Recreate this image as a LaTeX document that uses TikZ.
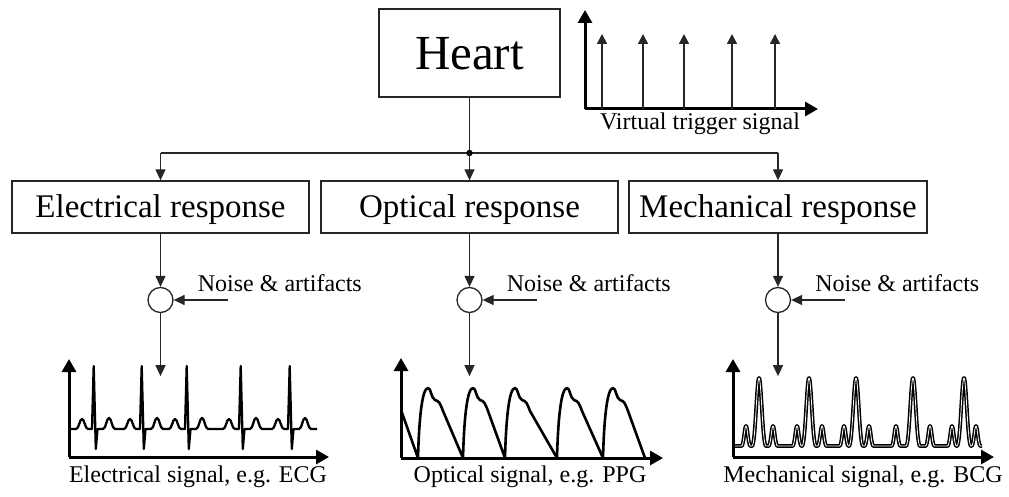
\documentclass[tikz,border=0pt]{standalone}
\usepackage{fontspec}
\setmainfont{Liberation Serif}
\usetikzlibrary{arrows.meta}
\begin{document}
\begin{tikzpicture}[x=1pt,y=-1pt,
  thin line/.style={draw=black!85,line width=1.3pt},
  box/.style={thin line,rectangle,inner sep=0pt,fill=white},
  conn/.style={thin line,-{Triangle[length=11pt,width=10pt]}},
  axis/.style={draw=black,line width=3pt,-{Triangle[length=13pt,width=14pt]}},
  trace/.style={draw=black,line width=2.6pt,line join=round},
  smalltext/.style={font=\fontsize{24}{28}\selectfont,inner sep=0pt,anchor=base},
  sumnode/.style={circle,draw=black!85,line width=1.3pt,minimum size=25pt,inner sep=0pt}
]
\useasboundingbox (0,0) rectangle (1009,497);

% boxes
\node[box,minimum width=181pt,minimum height=88pt,text height=33pt,text depth=0pt,
  font=\fontsize{49}{55}\selectfont] (heart) at (469.5,53) {Heart};
\node[box,minimum width=297pt,minimum height=52pt,text height=22pt,text depth=0pt,
  font=\fontsize{33}{38}\selectfont] (elec) at (160.5,207) {Electrical response};
\node[box,minimum width=297pt,minimum height=52pt,text height=22pt,text depth=0pt,
  font=\fontsize{33}{38}\selectfont] (opt) at (469.5,207) {Optical response};
\node[box,minimum width=298pt,minimum height=52pt,text height=22pt,text depth=0pt,
  font=\fontsize{33}{38}\selectfont] (mech) at (778,207) {Mechanical response};

% distribution
\coordinate (j1) at (160.5,153);
\coordinate (j2) at (469.5,153);
\coordinate (j3) at (778,153);
\draw[thin line] (heart.south) -- (j2);
\draw[thin line] (j1) -- (j3);
\fill (j2) circle (3.2pt);
\draw[conn] (j1) -- (elec.north);
\draw[conn] (j2) -- (opt.north);
\draw[conn] (j3) -- (mech.north);

% summing junctions
\node[sumnode] (c1) at (160.5,300) {};
\node[sumnode] (c2) at (469.5,300) {};
\node[sumnode] (c3) at (778,300) {};
\foreach \c/\b in {c1/elec,c2/opt,c3/mech}{
  \draw[conn] (\b.south) -- (\c.north);
  \coordinate (n\c) at ([xshift=54pt]\c.east);
  \draw[conn] (n\c) -- (\c.east);
  \node[smalltext,anchor=base west] (t\c) at ([xshift=24pt,yshift=9pt]\c.east) {Noise \& artifacts};
  \coordinate (s\c) at ([yshift=-63pt]\c.south);
  \draw[conn] (\c.south) -- (s\c);
}

% ---- trigger signal
\coordinate (to) at (585,109);
\coordinate (ty) at (585,10);
\coordinate (tx) at (818,109);
\draw[axis] (to) -- (ty);
\draw[axis] (to) -- (tx);
\foreach \x in {602,643,684,732,775}{
  \draw[draw=black!85,line width=1.5pt,-{Triangle[length=10pt,width=10pt]}] (\x,109) -- (\x,34);
}
\node[smalltext] (tlabel) at (700,130) {Virtual trigger signal};

% ---- ECG
\coordinate (eo) at (69,457);
\draw[axis] (eo) -- (69,359);
\draw[axis] (eo) -- (329,457);
\draw[trace,line width=2.3pt] (69,429)
  \foreach \x in {94,142,187,241,290}{
    -- (\x-18,429) .. controls (\x-15,429) and (\x-14.5,419) .. (\x-12,419)
    .. controls (\x-9.5,419) and (\x-9,429) .. (\x-6,429)
    -- (\x-2,429) -- (\x-0.3,366) -- (\x+1.8,449) -- (\x+3.5,429)
    -- (\x+9,429) .. controls (\x+12,429) and (\x+12.5,418) .. (\x+15,418)
    .. controls (\x+17.5,418) and (\x+18,429) .. (\x+21,429)
  } -- (317,429);
\node[smalltext] (elabel) at (198,482) {Electrical signal, e.g. ECG};

% ---- PPG
\coordinate (po) at (401,458);
\draw[axis] (po) -- (401,358);
\draw[axis] (po) -- (663,458);
\draw[trace] (401,410) -- (418,458)
  \foreach \f/\g in {418/463,463/505,505/557,557/603,603/645}{
    .. controls (\f+1,420) and (\f+4,388) .. (\f+10,388)
    .. controls (\f+13,388) and (\f+13,398) .. (\f+17,400)
    .. controls (\f+21,401) and (\f+22,403) .. (\f+25,411)
    -- (\g,458)
  };
\node[smalltext] (plabel) at (530,482) {Optical signal, e.g. PPG};

% ---- BCG
\coordinate (bo) at (733,457);
\draw[axis] (bo) -- (733,359);
\draw[axis] (bo) -- (994,457);
\draw[draw=black,line width=1.5pt,double=white,double distance=0.8pt,line join=round] (735,446)
  \foreach \c/\h/\w in {746/20/4.5,759/68/7,773/20/4.5,797/20/4.5,809/68/7,822/20/4.5,
     844/20/4.5,856/68/7,869/20/4.5,896/20/4.5,913/68/7,930/20/4.5,952/20/4.5,964/68/7,976/20/4.5}{
    -- (\c-\w,446) .. controls (\c-\w/2,446) and (\c-\w/3,446-\h) .. (\c,446-\h)
    .. controls (\c+\w/3,446-\h) and (\c+\w/2,446) .. (\c+\w,446)
  } -- (982,446);
\node[smalltext] (mlabel) at (863,482) {Mechanical signal, e.g. BCG};
\end{tikzpicture}
\end{document}
